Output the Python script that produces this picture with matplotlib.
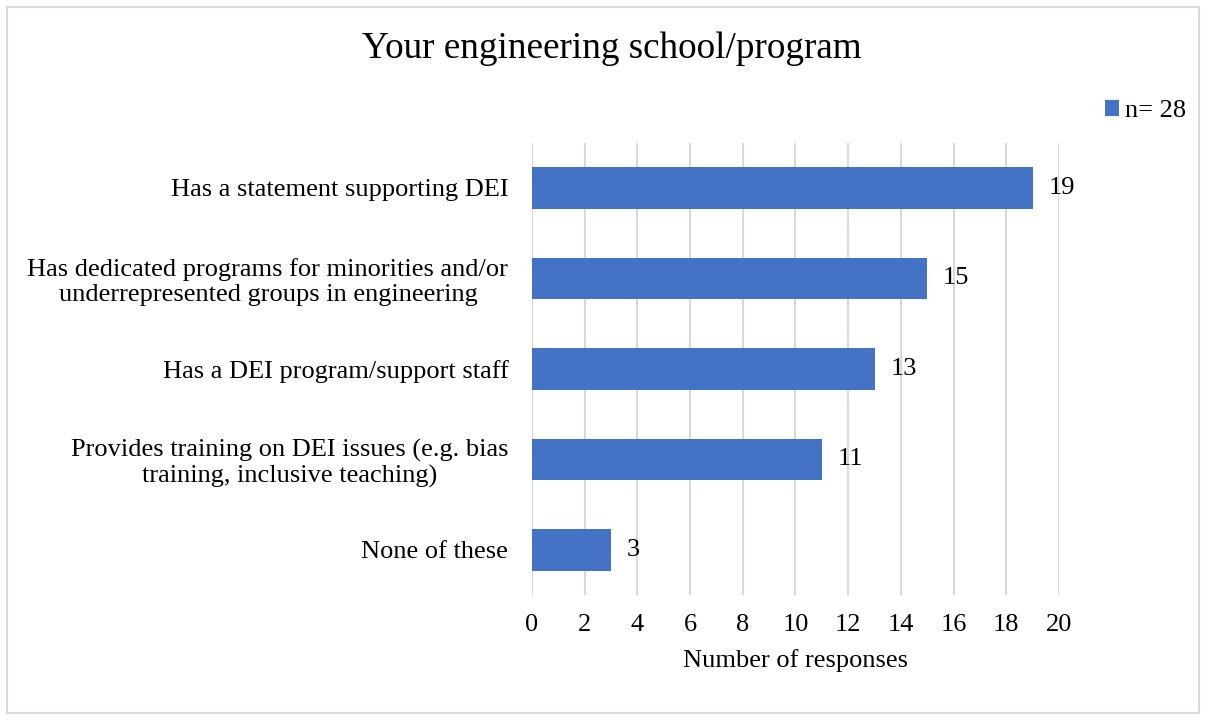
import matplotlib
matplotlib.use("Agg")
import matplotlib.pyplot as plt
from matplotlib.patches import Rectangle

plt.rcParams['font.family'] = ['Liberation Serif', 'DejaVu Serif']

# Data
categories = [
    "Has a statement supporting DEI",
    "Has dedicated programs for minorities and/or\nunderrepresented groups in engineering",
    "Has a DEI program/support staff",
    "Provides training on DEI issues (e.g. bias\ntraining, inclusive teaching)",
    "None of these",
]
values = [19, 15, 13, 11, 3]
xticks = [0, 2, 4, 6, 8, 10, 12, 14, 16, 18, 20]
bar_color = "#4472c4"

fig = plt.figure(figsize=(12.06, 7.2), dpi=100)
ax = fig.add_axes([0.4411, 0.1736, 0.4370, 0.6281])

ypos = list(range(len(categories)))[::-1]
bars = ax.barh(ypos, values, height=0.46, color=bar_color, label="n= 28", zorder=3)

for y, v in zip(ypos, values):
    ax.text(v + 0.6, y, str(v), va="center", ha="left", fontsize=19, color="#000000")

ax.set_xlim(0, 20)
ax.set_ylim(-0.5, len(categories) - 0.5)
ax.set_xticks(xticks)
ax.set_yticks(ypos)
ax.set_yticklabels(categories, linespacing=1.15, multialignment="center")
ax.tick_params(axis="both", length=0, labelsize=19)
ax.tick_params(axis="y", pad=17)
ax.tick_params(axis="x", pad=14)
ax.xaxis.grid(True, color="#d9d9d9", linewidth=1.5, zorder=0)
for s in ax.spines.values():
    s.set_visible(False)

ax.set_xlabel("Number of responses", fontsize=19, labelpad=9)
fig.text(0.507, 0.932, "Your engineering school/program", ha="center", va="center", fontsize=26.7)

leg = fig.legend(handles=[bars], labels=["n= 28"], loc="center right",
                 bbox_to_anchor=(1.003, 0.846), frameon=False, fontsize=19,
                 handlelength=0.55, handleheight=0.55, handletextpad=0.2)

fig.patches.append(Rectangle((7 / 1206, 7 / 720), 1192 / 1206, 706 / 720,
                             transform=fig.transFigure, fill=False,
                             edgecolor="#d9d9d9", linewidth=1.5))

fig.savefig("out.png", dpi=100)
